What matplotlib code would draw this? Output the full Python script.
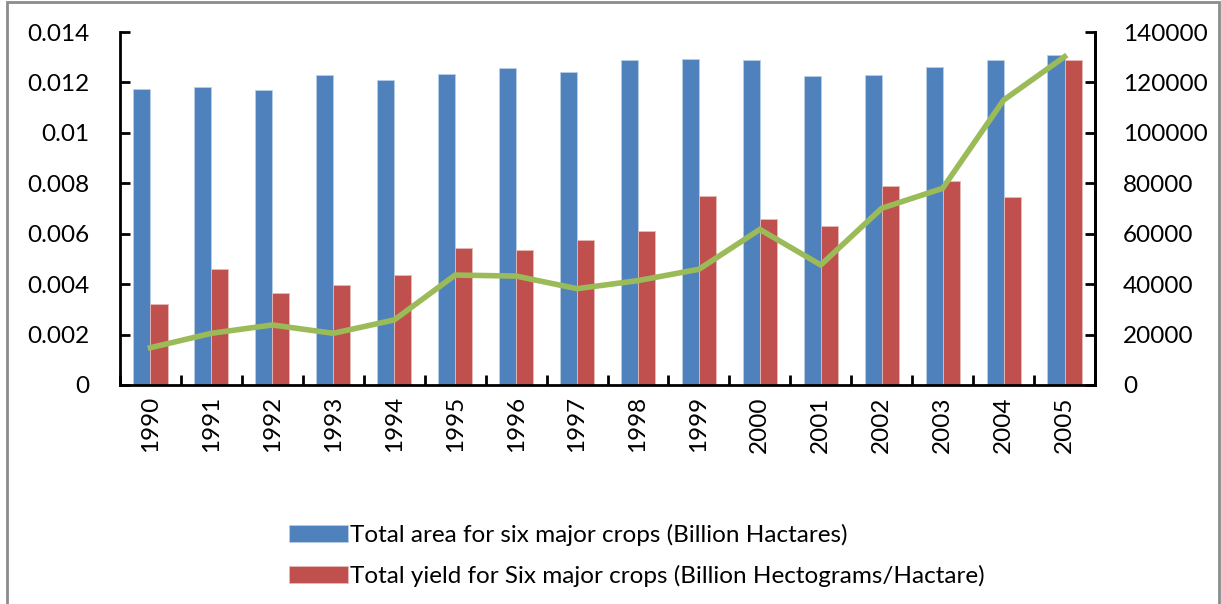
import matplotlib
matplotlib.use("Agg")
import matplotlib.pyplot as plt
from matplotlib.patches import Rectangle
from matplotlib.ticker import FixedLocator, NullFormatter
import numpy as np

plt.rcParams["font.family"] = ["Lato", "DejaVu Sans"]

years = [str(y) for y in range(1990, 2006)]
area = [0.01173, 0.01181, 0.01169, 0.01231, 0.01208, 0.01235, 0.01259, 0.01241,
        0.01288, 0.01294, 0.01288, 0.01227, 0.01230, 0.01261, 0.01288, 0.01308]
yield_ = [0.00321, 0.00460, 0.00364, 0.00397, 0.00437, 0.00542, 0.00537, 0.00574,
          0.00610, 0.00748, 0.00657, 0.00629, 0.00789, 0.00809, 0.00744, 0.01289]
production = [14800, 20500, 23800, 20500, 25800, 43600, 43200, 38200,
              41400, 45900, 61700, 47600, 70100, 78000, 113000, 130200]

left_ticks = [0, 0.002, 0.004, 0.006, 0.008, 0.010, 0.012, 0.014]
left_labels = ["0", "0.002", "0.004", "0.006", "0.008", "0.01", "0.012", "0.014"]
right_ticks = [0, 20000, 40000, 60000, 80000, 100000, 120000, 140000]

BLUE, RED, GREEN = "#4F81BD", "#C0504D", "#9BBB59"
FS = 17.5

fig = plt.figure(figsize=(12.21, 6.04), dpi=100)
ax = fig.add_axes([0.0983, 0.3626, 0.7985, 0.5844])
x = np.arange(len(years))
w = 0.28

b1 = ax.bar(x - w / 2, area, w, color=BLUE, edgecolor="#b9cde5", lw=0.6,
            label="Total area for six major crops (Billion Hactares)")
b2 = ax.bar(x + w / 2, yield_, w, color=RED, edgecolor="#e6b9b8", lw=0.6,
            label="Total yield for Six major crops (Billion Hectograms/Hactare)")
ax.set_xlim(-0.5, len(years) - 0.5)
ax.set_ylim(0, 0.014)
ax.set_yticks(left_ticks, left_labels, fontsize=FS)
ax.set_xticks(x, years, rotation=90, fontsize=FS)
ax.tick_params(axis="x", length=0, pad=8)
ax.xaxis.set_minor_locator(FixedLocator(np.arange(-0.5, len(years), 1.0)))
ax.xaxis.set_minor_formatter(NullFormatter())
ax.tick_params(axis="x", which="minor", direction="in", length=7, width=2)
ax.tick_params(axis="y", direction="in", length=7, width=2, pad=22)
ax.spines["top"].set_visible(False)
for s in ("left", "bottom", "right"):
    ax.spines[s].set_linewidth(2)

ax2 = ax.twinx()
ax2.plot(x, production, color=GREEN, lw=4, solid_joinstyle="miter")
ax2.set_ylim(0, 140000)
ax2.set_yticks(right_ticks, [str(t) for t in right_ticks], fontsize=FS)
ax2.tick_params(axis="y", direction="in", length=7, width=2, pad=20)
ax2.spines["top"].set_visible(False)
ax2.spines["right"].set_linewidth(2)
ax2.spines["left"].set_visible(False)
ax2.spines["bottom"].set_visible(False)

fig.legend(handles=[b1, b2], loc="upper left", bbox_to_anchor=(0.229, 0.148),
           frameon=False, fontsize=FS, handlelength=2.4, handleheight=0.7,
           handletextpad=0.1, labelspacing=0.75, borderaxespad=0)

fig.patches.append(Rectangle((7 / 1221, -0.02), 1 - 9 / 1221, 1.02 - 2 / 604,
                             transform=fig.transFigure, fill=False,
                             edgecolor="#8c8c8c", lw=2))

fig.savefig("out.png", dpi=100)
